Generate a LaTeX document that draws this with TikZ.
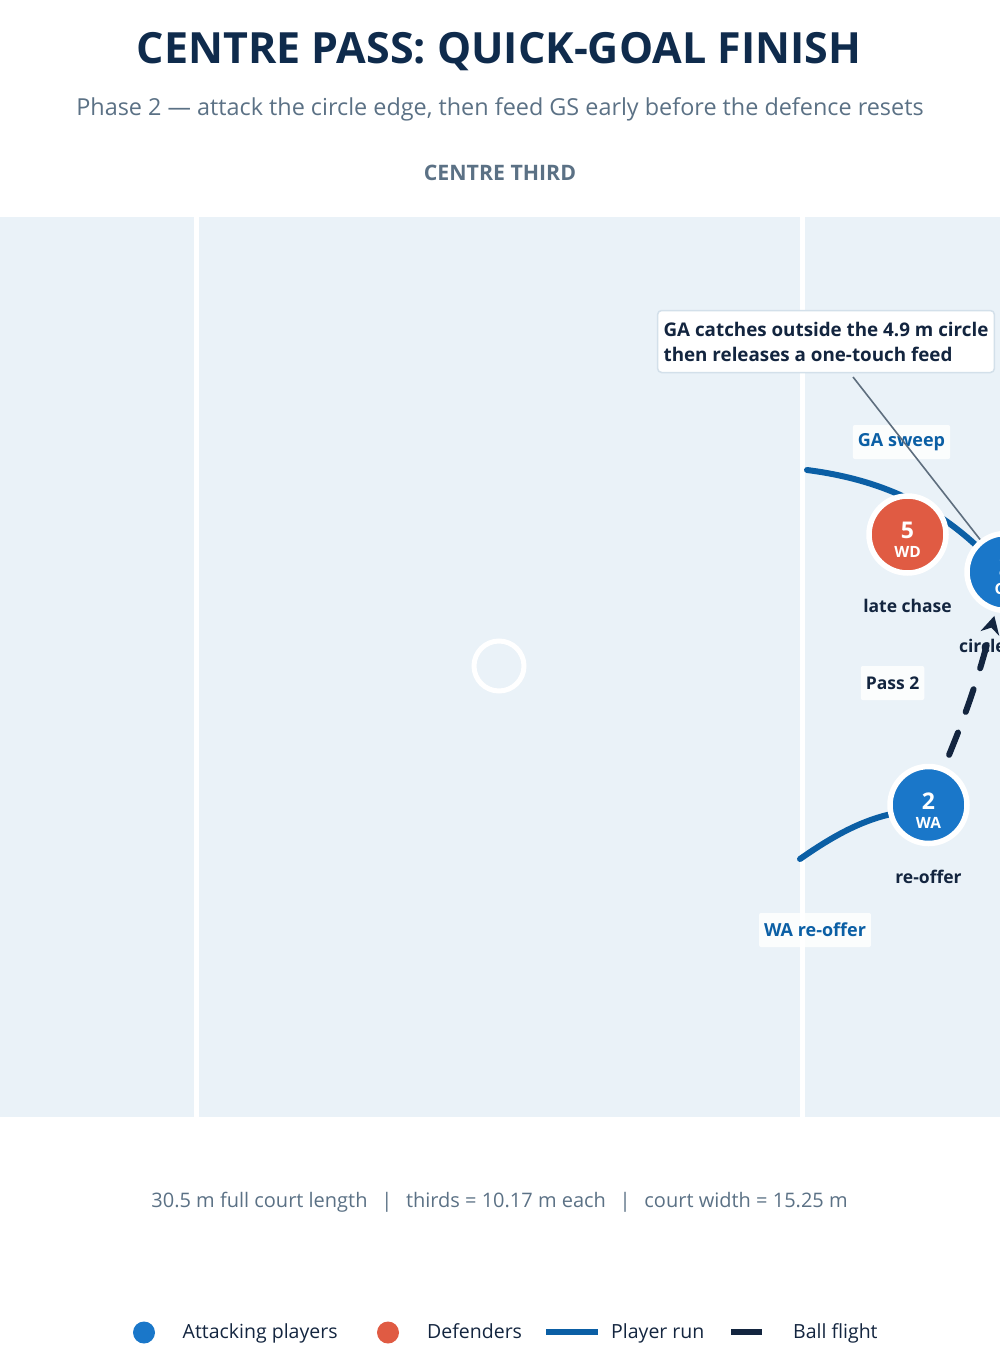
\documentclass[tikz,border=0pt]{standalone}
\usepackage{fontspec}
\setmainfont{Open Sans}
\usepackage{tikz}
\usetikzlibrary{arrows.meta,backgrounds}

\definecolor{titlenavy}{HTML}{0F2B4C}
\definecolor{subgrey}{HTML}{5B7185}
\definecolor{courtblue}{HTML}{EAF2F8}
\definecolor{attackblue}{HTML}{1A77C9}
\definecolor{defred}{HTML}{E05B43}
\definecolor{runblue}{HTML}{0B5FA5}
\definecolor{ballnavy}{HTML}{13253F}
\definecolor{leadergrey}{HTML}{5E6E7E}
\definecolor{calloutline}{HTML}{D3E0EA}

\begin{document}
\begin{tikzpicture}[x=1pt,y=-1pt,
  player/.style={circle,draw=white,line width=5.5pt,minimum size=77pt,inner sep=0pt,text=white,align=center,font=\bfseries\fontsize{23}{19}\selectfont},
  attacker/.style={player,fill=attackblue},
  defender/.style={player,fill=defred},
  tagtext/.style={anchor=base,text=ballnavy,font=\bfseries\fontsize{17.5}{20}\selectfont},
  runlabel/.style={fill=white,fill opacity=0.85,text opacity=1,rounded corners=2pt,inner xsep=5pt,minimum height=34pt,font=\bfseries\fontsize{18}{20}\selectfont},
  run/.style={draw=runblue,line width=6pt,line cap=round},
  ball/.style={draw=ballnavy,line width=6pt,line cap=round,dash pattern=on 24pt off 22pt,-{Stealth[length=18pt,width=19pt]}},
  legendtext/.style={anchor=base west,inner sep=0pt,text=ballnavy,font=\fontsize{19.5}{22}\selectfont}]
\useasboundingbox (0,0) rectangle (1000,1370);
\clip (0,0) rectangle (1000,1370);

\node[name=Title,anchor=base,text=titlenavy,font=\bfseries\fontsize{43}{50}\selectfont] at (499,63.5) {CENTRE PASS: QUICK-GOAL FINISH};
\node[name=Subtitle,anchor=base,text=subgrey,font=\fontsize{23.4}{26}\selectfont] at (500,116) {Phase 2 — attack the circle edge, then feed GS early before the defence resets};
\node[name=Third,anchor=base,text=subgrey,font=\bfseries\fontsize{21.3}{24}\selectfont] at (500,180) {CENTRE THIRD};

\node[name=WD,defender] at (907.5,534.5) {\rule{0pt}{27pt}5\\{\fontsize{15.5}{15}\selectfont WD}};
\node[name=GA,attacker] at (1005.5,572) {\rule{0pt}{27pt}3\\{\fontsize{15.5}{15}\selectfont GA}};
\node[name=WA,attacker] at (928.5,805) {\rule{0pt}{27pt}2\\{\fontsize{15.5}{15}\selectfont WA}};

\node[name=WD-Note,tagtext] at (907.5,612) {late chase};
\node[name=GA-Note,tagtext] at (1005.5,652) {circle edge};
\node[name=WA-Note,tagtext] at (928.5,883) {re-offer};

\coordinate (GA-Run-Start) at (807,470);
\coordinate (WA-Run-Start) at (800,859);
\coordinate (Leader-Start) at (853,377);

\begin{pgfonlayer}{background}
\fill[courtblue] (0,217) rectangle (1000,1117);
\fill[white] (193.5,217) rectangle (199,1117);
\fill[white] (799.5,217) rectangle (805,1117);
\draw[white,line width=5pt] (499,666) circle (25);
\draw[run] (GA-Run-Start) .. controls (885,480) and (935,508) .. (GA);
\draw[run] (WA-Run-Start) .. controls (830,838) and (858,822) .. (WA);
\end{pgfonlayer}

\node[name=GA-Sweep,runlabel,text=runblue] at (901.5,442) {GA sweep};
\node[name=WA-Re-Offer,runlabel,text=runblue] at (815,930) {WA re-offer};
\node[name=Pass-2,runlabel,text=ballnavy,font=\bfseries\fontsize{17.5}{20}\selectfont] at (892.5,683) {Pass 2};

\node[name=Callout,draw=calloutline,line width=1.5pt,fill=white,rounded corners=4pt,align=left,inner xsep=6pt,minimum height=62pt,text=ballnavy,font=\bfseries\fontsize{18.8}{25}\selectfont] at (826,341.5) {GA catches outside the 4.9 m circle\\then releases a one-touch feed};
\draw[leadergrey,line width=1.6pt] (Leader-Start) -- (GA);

\draw[ball,shorten <=13pt,shorten >=4pt] (WA) to[bend right=4] (GA);

\node[name=Footer,anchor=base,text=subgrey,font=\fontsize{20}{24}\selectfont] at (499.5,1207) {30.5 m full court length \ \,|\ \, thirds = 10.17 m each \ \,|\ \, court width = 15.25 m};

\node[name=Legend-Attack-Dot,circle,fill=attackblue,minimum size=22pt,inner sep=0pt] at (144,1332.5) {};
\node[name=Legend-Attack,legendtext] at (182.5,1338.5) {Attacking players};
\node[name=Legend-Defend-Dot,circle,fill=defred,minimum size=22pt,inner sep=0pt] at (388,1332.5) {};
\node[name=Legend-Defend,legendtext] at (427,1338.5) {Defenders};
\draw[runblue,line width=6pt] (546,1332) -- (598,1332);
\node[name=Legend-Run,legendtext] at (611,1338.5) {Player run};
\draw[ballnavy,line width=6pt] (731,1332) -- (762,1332);
\node[name=Legend-Ball,legendtext] at (793,1338.5) {Ball flight};
\end{tikzpicture}
\end{document}
